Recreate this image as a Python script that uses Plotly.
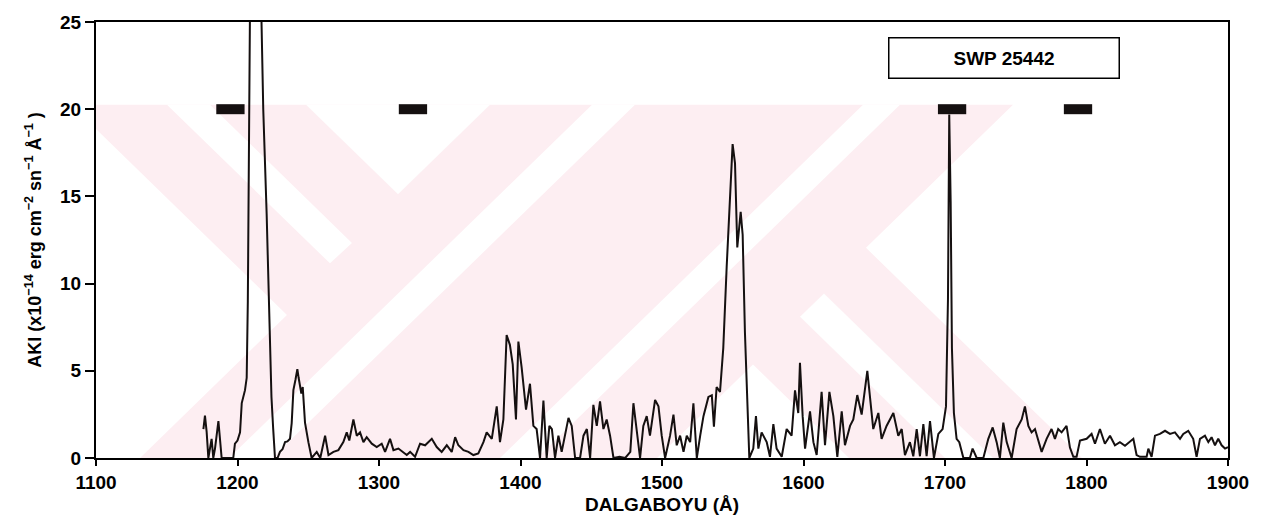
import plotly.graph_objects as go

# ---------------- data ----------------
wavelength = [
    1175.9, 1177.0, 1178.2, 1179.4, 1181.7, 1182.9, 1184.1, 1186.5, 1187.5, 1188.8,
    1193.0, 1197.0, 1198.2, 1200.0, 1201.8, 1203.0, 1205.3, 1206.5, 1207.3, 1208.0,
    1208.8, 1210.5, 1213.0, 1215.5, 1217.1, 1218.2, 1220.6, 1221.8, 1223.0, 1224.0,
    1225.2, 1226.5, 1228.3, 1230.0, 1231.8, 1233.6, 1235.3, 1237.1, 1238.3, 1239.5,
    1241.0, 1242.3, 1243.2, 1244.2, 1245.1, 1246.1, 1247.7, 1250.1, 1252.4, 1256.0,
    1258.5, 1261.9, 1264.3, 1267.8, 1271.3, 1274.8, 1277.2, 1279.0, 1281.9, 1284.3,
    1286.6, 1289.0, 1291.3, 1294.9, 1298.4, 1301.9, 1304.3, 1307.8, 1310.2, 1313.7,
    1317.2, 1319.6, 1322.0, 1325.5, 1329.0, 1332.6, 1337.3, 1340.8, 1344.3, 1347.9,
    1351.4, 1353.8, 1356.1, 1359.7, 1363.2, 1366.7, 1370.2, 1373.8, 1376.1, 1379.7,
    1383.2, 1385.5, 1387.9, 1390.2, 1392.5, 1394.5, 1396.8, 1398.5, 1400.8, 1403.9,
    1406.7, 1409.1, 1411.4, 1413.8, 1416.2, 1418.5, 1420.4, 1422.2, 1424.4, 1426.8,
    1429.1, 1431.5, 1433.9, 1436.2, 1438.6, 1442.1, 1444.5, 1446.9, 1449.2, 1451.5,
    1453.9, 1456.2, 1458.6, 1460.9, 1463.3, 1465.7, 1470.0, 1474.0, 1477.6, 1479.8,
    1482.1, 1484.5, 1486.8, 1489.2, 1491.5, 1495.1, 1497.5, 1499.8, 1502.2, 1505.7,
    1508.1, 1510.4, 1512.8, 1515.2, 1517.5, 1519.9, 1522.2, 1524.6, 1527.0, 1529.3,
    1532.8, 1535.2, 1536.7, 1538.6, 1541.0, 1543.3, 1545.7, 1548.0, 1549.9, 1551.6,
    1553.2, 1555.6, 1557.0, 1558.6, 1560.3, 1561.7, 1564.5, 1566.4, 1568.1, 1570.4,
    1574.0, 1576.3, 1578.7, 1581.0, 1584.6, 1588.1, 1591.6, 1594.0, 1596.3, 1597.5,
    1599.4, 1601.1, 1604.6, 1607.0, 1609.3, 1612.8, 1615.2, 1618.3, 1621.1, 1623.9,
    1627.0, 1629.3, 1632.9, 1635.2, 1638.0, 1641.1, 1645.1, 1647.0, 1649.3, 1652.9,
    1655.2, 1658.7, 1663.5, 1667.0, 1669.4, 1671.7, 1675.2, 1677.6, 1680.0, 1682.3,
    1684.7, 1687.0, 1689.4, 1692.2, 1695.3, 1698.3, 1700.7, 1702.1, 1703.0, 1704.0,
    1704.9, 1706.3, 1708.2, 1710.1, 1713.0, 1717.6, 1719.5, 1722.4, 1727.1, 1730.6,
    1733.7, 1736.5, 1738.8, 1741.2, 1743.6, 1747.1, 1750.6, 1754.2, 1756.5, 1758.9,
    1761.2, 1763.6, 1766.0, 1768.3, 1771.8, 1775.3, 1777.7, 1780.0, 1782.4, 1785.9,
    1788.3, 1790.7, 1793.0, 1795.4, 1800.1, 1803.6, 1806.0, 1809.5, 1813.0, 1816.6,
    1820.1, 1823.6, 1827.2, 1830.7, 1833.1, 1835.4, 1837.8, 1842.5, 1843.7, 1846.0,
    1848.4, 1851.9, 1855.5, 1859.0, 1862.5, 1866.1, 1868.4, 1871.9, 1875.4, 1877.8,
    1880.2, 1883.7, 1886.1, 1888.4, 1890.8, 1893.1, 1895.5, 1897.9, 1900.0,
]
flux = [
    1.66, 2.43, 1.50, 0.00, 1.10, 0.00, 0.54, 2.12, 1.20, 0.00,
    0.00, 0.00, 0.82, 1.00, 1.47, 3.15, 3.89, 4.60, 9.00, 18.0,
    25.5, 31.0, 33.0, 31.0, 25.2, 20.0, 14.0, 10.0, 6.20, 3.50,
    1.70, 0.00, 0.00, 0.35, 0.50, 0.91, 0.95, 1.10, 2.00, 3.89,
    4.50, 5.10, 4.60, 3.98, 3.70, 4.07, 2.03, 0.91, 0.00, 0.35,
    0.00, 1.28, 0.17, 0.35, 0.45, 0.91, 1.47, 1.00, 2.21, 1.28,
    1.47, 0.91, 1.19, 0.82, 0.63, 0.82, 0.35, 1.10, 0.45, 0.54,
    0.35, 0.17, 0.35, 0.07, 0.82, 0.73, 1.10, 0.63, 0.35, 0.73,
    0.35, 1.19, 0.73, 0.45, 0.35, 0.17, 0.26, 0.91, 1.47, 1.10,
    2.96, 0.91, 2.21, 7.05, 6.49, 5.37, 2.21, 6.68, 5.19, 2.77,
    4.26, 1.84, 1.66, 0.00, 3.30, 0.00, 1.84, 1.66, 0.00, 1.28,
    0.35, 1.28, 2.30, 1.84, 0.00, 0.00, 1.28, 1.66, 0.00, 3.05,
    1.84, 3.24, 1.66, 2.21, 1.28, 0.00, 0.07, 0.00, 0.35, 3.14,
    1.66, 0.00, 1.84, 2.40, 1.28, 3.33, 2.96, 1.28, 0.00, 1.28,
    2.49, 0.73, 1.28, 0.35, 1.28, 0.91, 3.14, 0.00, 1.28, 2.40,
    3.50, 3.60, 1.80, 4.07, 3.79, 6.30, 10.95, 14.67, 18.0, 16.9,
    12.07, 14.11, 12.8, 7.23, 3.51, 0.00, 0.54, 2.40, 0.54, 1.47,
    0.91, 0.07, 1.94, 0.54, 0.07, 1.66, 1.28, 3.88, 2.58, 5.46,
    2.40, 0.54, 2.68, 0.91, 0.17, 3.79, 0.73, 3.79, 2.40, 0.07,
    2.68, 0.73, 1.84, 2.21, 3.61, 2.49, 5.00, 3.30, 1.66, 2.58,
    1.10, 1.84, 2.58, 1.28, 1.66, 0.17, 0.91, 0.10, 1.66, 0.10,
    1.94, 0.10, 2.12, 0.00, 1.38, 1.66, 2.96, 9.10, 19.7, 14.7,
    6.30, 2.58, 1.10, 0.91, 0.00, 0.00, 0.54, 0.00, 0.00, 1.10,
    1.75, 0.91, 0.00, 2.03, 0.91, 0.00, 1.66, 2.21, 2.96, 1.84,
    1.47, 1.66, 0.91, 0.35, 1.10, 1.66, 1.10, 1.66, 1.47, 1.84,
    0.60, 0.07, 0.07, 1.00, 1.10, 1.38, 0.82, 1.66, 0.82, 1.28,
    0.73, 0.91, 0.70, 0.91, 1.10, 0.17, 0.07, 0.07, 0.54, 0.07,
    1.28, 1.38, 1.56, 1.38, 1.47, 1.10, 1.38, 1.56, 1.10, 0.07,
    1.10, 1.28, 0.91, 1.19, 0.73, 1.10, 0.73, 0.54, 0.63,
]

band_centers = [1195, 1324, 1705, 1794]
band_halfwidths = [10, 10, 10, 10]
band_level = [20, 20, 20, 20]

x_ticks = [1100, 1200, 1300, 1400, 1500, 1600, 1700, 1800, 1900]
y_ticks = [0, 5, 10, 15, 20, 25]
label_text = "SWP 25442"

# ---------------- styling ----------------
W, H = 1272, 524
ML, MR, MT, MB = 96, 44, 15, 61
PW, PH = W - ML - MR, H - MT - MB
FONT = "Liberation Sans, Arial, sans-serif"
PINK = "#fdeef2"
INK = "#151010"


def to_paper(pts):
    return [((px - ML) / PW, (MT + PH - py) / PH) for px, py in pts]


def path(pts):
    p = to_paper(pts)
    return "M " + " L ".join(f"{x:.4f},{y:.4f}" for x, y in p) + " Z"

# background watermark of the scanned page (decoration, pixel geometry)
pink_outline = [(96, 100), (1013, 100), (866, 247), (1082, 463), (96, 463)]
white_cuts = [
    [(96, 125), (287, 316), (140, 463), (96, 463)],
    [(167, 100), (210, 100), (352, 242), (330, 263)],
    [(306, 100), (490, 100), (398, 192)],
    [(592, 100), (635, 100), (272, 463), (229, 463)],
    [(863, 100), (900, 100), (537, 463), (500, 463)],
    [(753, 367), (849, 463), (657, 463)],
    [(800, 318), (824, 294), (993, 463), (945, 463)],
]

shapes = [dict(type="path", path=path(pink_outline), xref="paper", yref="paper",
               fillcolor=PINK, line=dict(width=0), layer="below")]
for cut in white_cuts:
    shapes.append(dict(type="path", path=path(cut), xref="paper", yref="paper",
                       fillcolor="white", line=dict(width=0), layer="below"))

fig = go.Figure()
fig.add_trace(go.Scatter(
    x=wavelength, y=flux, mode="lines",
    line=dict(color=INK, width=2), showlegend=False, hoverinfo="x+y",
))
fig.add_trace(go.Scatter(
    x=band_centers, y=band_level, mode="markers",
    marker=dict(size=2, color=INK),
    error_x=dict(type="data", array=band_halfwidths, symmetric=True,
                 thickness=10, width=0, color=INK),
    showlegend=False, hoverinfo="skip",
))

fig.add_annotation(
    x=(1003.5 - ML) / PW, y=(MT + PH - 51.5) / PH, xref="paper", yref="paper",
    xanchor="center", yanchor="middle",
    text=label_text, showarrow=False,
    font=dict(family=FONT, size=19, color="black", weight="bold"),
    width=225, height=35, borderpad=2, bordercolor="black", borderwidth=1.5,
    bgcolor="white", align="center", valign="middle",
)

axis_font = dict(family=FONT, size=19, color="black", weight="bold")
fig.update_layout(
    width=W, height=H,
    margin=dict(l=ML, r=MR, t=MT, b=MB, pad=0),
    paper_bgcolor="white", plot_bgcolor="white",
    shapes=shapes,
    xaxis=dict(
        range=[1100, 1900], tickmode="array", tickvals=x_ticks,
        ticktext=[str(v) for v in x_ticks],
        showgrid=False, zeroline=False, showline=True, mirror=True,
        linecolor="black", linewidth=2, ticks="outside", ticklen=6,
        tickwidth=1.5, tickcolor="black", tickfont=axis_font,
        title=dict(text="DALGABOYU (Å)", font=axis_font, standoff=6),
    ),
    yaxis=dict(
        range=[0, 25], tickmode="array", tickvals=y_ticks,
        ticktext=[str(v) for v in y_ticks],
        showgrid=False, zeroline=False, showline=True, mirror=True,
        linecolor="black", linewidth=2, ticks="outside", ticklen=9,
        tickwidth=1.5, tickcolor="black", tickfont=axis_font,
        title=dict(
            text="AKI (x10<sup>−14</sup> erg cm<sup>−2</sup> sn<sup>−1</sup> Å<sup>−1</sup> )",
            font=dict(family=FONT, size=18, color="black", weight="bold"),
            standoff=14,
        ),
    ),
)

fig.write_html("out.html")
